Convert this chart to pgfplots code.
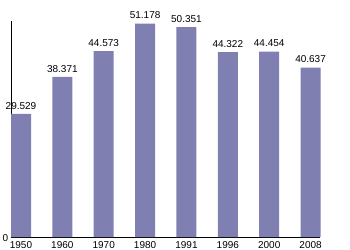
\documentclass[border=0pt]{standalone}
\usepackage{fontspec}
\setmainfont{Liberation Sans}
\usepackage{pgfplots}
\pgfplotsset{compat=1.18}
\definecolor{barc}{RGB}{128,127,178}
\begin{document}
\begin{tikzpicture}
\useasboundingbox (-21bp,-13bp) rectangle (329bp,237bp);
\begin{axis}[
  at={(0,0)}, anchor=origin,
  scale only axis, width=309bp, height=216bp,
  xmin=-0.23, xmax=7.24, ymin=0, ymax=51.8,
  axis x line=bottom, axis y line=left,
  axis line style={-, black, line width=0.8pt},
  xtick={0,...,7},
  xticklabels={1950,1960,1970,1980,1991,1996,2000,2008},
  ytick={0},
  major tick length=0pt,
  tick label style={font=\fontsize{10bp}{12bp}\selectfont, inner sep=0pt},
  /pgf/number format/assume math mode=true,
  xticklabel style={yshift=-4bp},
  yticklabel style={xshift=-3bp, yshift=-1bp},
  clip=false,
]
\addplot[ybar, bar width=20bp, fill=barc, draw=none,
  nodes near coords, point meta=explicit symbolic,
  every node near coord/.append style={font=\fontsize{10bp}{12bp}\selectfont, inner sep=0pt, yshift=4.5bp}]
 table[meta=lab] {
x y lab
0 29.529 29.529
1 38.371 38.371
2 44.573 44.573
3 51.178 51.178
4 50.351 50.351
5 44.322 44.322
6 44.454 44.454
7 40.637 40.637
};
\end{axis}
\end{tikzpicture}
\end{document}
